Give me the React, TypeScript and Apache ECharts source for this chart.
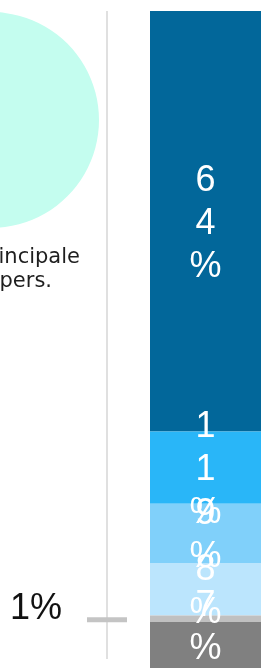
import React, { useEffect, useRef } from "react";
import * as echarts from "echarts";

const categories = ["Résidence principale"];
const segmentValues = [64, 11, 9, 8, 1, 7];
const segmentColors = ["#02679A", "#29B6F8", "#80D0FA", "#BBE5FD", "#C0C0C0", "#808080"];
const captionLines = ["principale", "pers."];

export default function App() {
  const ref = useRef<HTMLDivElement>(null);
  useEffect(() => {
    if (!ref.current) return;
    const chart = echarts.init(ref.current, null, { renderer: "svg" });
    const series = segmentValues.map((v, i) => {
      const small = v <= 2;
      const last = i === segmentValues.length - 1;
      return {
        type: "bar",
        stack: "total",
        barWidth: "100%",
        data: [v],
        itemStyle: { color: segmentColors[i] },
        label: small
          ? {
              show: true,
              position: "left",
              distance: 88,
              offset: [0, -12],
              color: "#111",
              fontFamily: "'Liberation Sans', Arial, sans-serif",
              fontSize: 36,
              formatter: () => `${v}%`,
            }
          : {
              show: true,
              position: "inside",
              offset: last ? [0, -20] : [0, 0],
              color: "#fff",
              fontFamily: "'Liberation Sans', Arial, sans-serif",
              fontSize: 36,
              lineHeight: 43,
              align: "center",
              formatter: () => `${v}%`.split("").join("\n"),
            },
      };
    });
    chart.setOption({
      animation: false,
      grid: { left: 150, right: 0, top: 11, bottom: -4 },
      xAxis: { type: "category", data: categories, show: false },
      yAxis: { type: "value", min: 0, max: 100, inverse: true, show: false },
      series,
    });
    let before = 0;
    const smallIdx = segmentValues.findIndex((v) => v <= 2);
    for (let i = 0; i < smallIdx; i++) before += segmentValues[i];
    const yc = chart.convertToPixel({ yAxisIndex: 0 }, before + segmentValues[smallIdx] / 2) as number;
    chart.setOption({
      graphic: [
        { type: "circle", shape: { cx: -9, cy: 120, r: 108 }, style: { fill: "#C4FDEF" }, silent: true },
        {
          type: "text",
          style: {
            x: 80, y: 256, text: captionLines[0], align: "right", verticalAlign: "middle",
            fontSize: 21, fontFamily: "DejaVu Sans", fill: "#1e1e1e",
          },
        },
        {
          type: "text",
          style: {
            x: 52, y: 280, text: captionLines[1], align: "right", verticalAlign: "middle",
            fontSize: 21, fontFamily: "DejaVu Sans", fill: "#1e1e1e",
          },
        },
        { type: "line", shape: { x1: 107, y1: 11, x2: 107, y2: 659 }, style: { stroke: "#e0e0e0", lineWidth: 2 } },
        { type: "rect", shape: { x: 87, y: yc - 1.5, width: 40, height: 5 }, style: { fill: "#C4C4C4" } },
      ],
    });
    return () => chart.dispose();
  }, []);
  return <div ref={ref} style={{ position: "fixed", left: 0, top: 0, width: 261, height: 668 }} />;
}
